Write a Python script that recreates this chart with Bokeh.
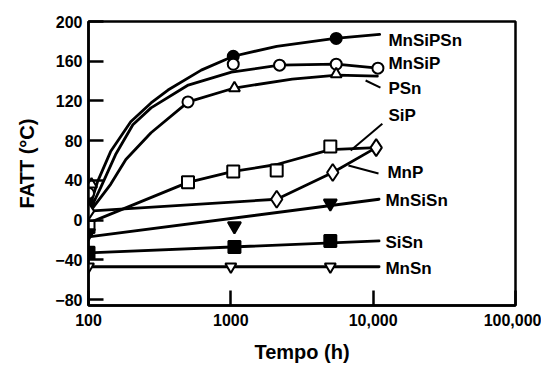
from bokeh.plotting import figure
from bokeh.models import FixedTicker, CustomJSTickFormatter, ColumnDataSource
from bokeh.embed import file_html
from bokeh.resources import INLINE
from bokeh.core.properties import value

# ---- measured points: ageing time (h) and FATT (°C) ----
mnsipsn_t = [100, 1040, 5500]
mnsipsn_v = [17, 165, 183]
mnsip_t = [100, 500, 1040, 2200, 5500, 10800]
mnsip_v = [27, 119, 157, 156, 157, 153]
psn_t = [105, 1060, 5500]
psn_v = [36, 133, 147]
sip_t = [100, 500, 1040, 2100, 5000]
sip_v = [-7, 38, 49, 50, 74]
mnp_t = [100, 2100, 5200, 10500]
mnp_v = [9, 21, 48, 73]
mnsisn_t = [100, 1060, 5000]
mnsisn_v = [-13, -6, 17]
sisn_t = [100, 1060, 5000]
sisn_v = [-33, -27, -21]
mnsn_t = [100, 1000, 5000]
mnsn_v = [-47, -47, -47]

# ---- trend curves drawn through each steel's results ----
mnsipsn_fit_t = [100, 116, 143, 198, 275, 362, 620, 1040, 2100, 5400, 11100]
mnsipsn_fit_v = [9, 39, 69, 99, 118, 131, 151, 165, 175, 183, 187]
mnsip_fit_t = [100, 122, 155, 205, 275, 502, 1010, 2200, 5500, 10800]
mnsip_fit_v = [7, 33, 66, 96, 113, 136, 149, 156, 157, 153]
psn_fit_t = [103, 143, 183, 275, 502, 1060, 2700, 5600, 10700]
psn_fit_v = [9, 36, 61, 88, 119, 133, 142, 146, 145]
sip_fit_t = [100, 500, 1040, 2100, 5000, 10500]
sip_fit_v = [-3, 38, 49, 56, 71, 73]
mnp_fit_t = mnp_t
mnp_fit_v = mnp_v
mnsisn_fit_t = [100, 11000]
mnsisn_fit_v = [-17, 21]
sisn_fit_t = [100, 11000]
sisn_fit_v = [-33, -21]
mnsn_fit_t = [100, 11000]
mnsn_fit_v = [-47, -47]

# ---- series names and where they are written ----
label_names = ["MnSiPSn", "MnSiP", "PSn", "SiP", "MnP", "MnSiSn", "SiSn", "MnSn"]
label_t = [12800, 12800, 12800, 12800, 12600, 12200, 12200, 12200]
label_v = [181, 158, 132.5, 105, 48, 20, -22.5, -49]

# leader lines from a curve to its name
leader_t0 = [8850, 6950, 6700]
leader_v0 = [140.6, 70, 55]
leader_t1 = [11250, 11600, 10900]
leader_v1 = [133.5, 97, 47]

# ---- axes ----
x_ticks = [100, 1000, 10000, 100000]
x_tick_labels = ["100", "1000", "10,000", "100,000"]
y_ticks = [-80, -40, 0, 40, 80, 120, 160, 200]

FONT = "Liberation Sans"

p = figure(
    width=541, height=374,
    x_axis_type="log",
    x_range=(100, 100000), y_range=(-86, 200),
    output_backend="svg", toolbar_location=None,
    min_border_left=88, min_border_right=26,
    min_border_top=21, min_border_bottom=69,
    background_fill_color="white", border_fill_color="white",
)
p.grid.visible = False
p.outline_line_color = "black"
p.outline_line_width = 2.5

for ax in (p.xaxis[0], p.yaxis[0]):
    ax.axis_line_width = 2.5
    ax.major_tick_in = 15
    ax.major_tick_out = 0
    ax.major_tick_line_width = 2.5
    ax.minor_tick_line_color = None
    ax.major_label_text_font = FONT
    ax.major_label_text_font_size = "16px"
    ax.major_label_text_font_style = "bold"
    ax.major_label_text_color = "black"
    ax.axis_label_text_font = FONT
    ax.axis_label_text_font_size = "20px"
    ax.axis_label_text_font_style = "bold"
    ax.axis_label_text_color = "black"

p.xaxis.ticker = FixedTicker(ticks=x_ticks)
p.xaxis.formatter = CustomJSTickFormatter(
    args=dict(vals=x_ticks, labs=x_tick_labels),
    code="""
const i = vals.findIndex(v => Math.abs(v - tick) < 1e-6 * v);
return i >= 0 ? labs[i] : "";
""")
p.xaxis.major_label_standoff = 8
p.xaxis.axis_label = "Tempo (h)"
p.xaxis.axis_label_standoff = 12

p.yaxis.ticker = FixedTicker(ticks=y_ticks)
p.yaxis.major_label_standoff = 6
p.yaxis.axis_label = "FATT (°C)"
p.yaxis.axis_label_standoff = 14

LW = 2.8

# trend lines
for ts, vs in [
    (mnsipsn_fit_t, mnsipsn_fit_v), (mnsip_fit_t, mnsip_fit_v),
    (psn_fit_t, psn_fit_v), (sip_fit_t, sip_fit_v),
    (mnp_fit_t, mnp_fit_v), (mnsisn_fit_t, mnsisn_fit_v),
    (sisn_fit_t, sisn_fit_v), (mnsn_fit_t, mnsn_fit_v),
]:
    p.line(ts, vs, line_color="black", line_width=LW, line_join="round", line_cap="round")

# leaders
p.segment(x0=leader_t0, y0=leader_v0, x1=leader_t1, y1=leader_v1,
          line_color="black", line_width=2)

# markers
def pts(ts, vs, marker, size, filled):
    p.scatter(ts, vs, marker=marker, size=size,
              fill_color="black" if filled else "white",
              line_color="black", line_width=2)

pts(mnsipsn_t, mnsipsn_v, "circle", 11, True)
pts(mnsip_t, mnsip_v, "circle", 11, False)
pts(psn_t, psn_v, "triangle", 11, False)
pts(sip_t, sip_v, "square", 12, False)
pts(mnp_t, mnp_v, "diamond", 17, False)
pts(mnsisn_t, mnsisn_v, "inverted_triangle", 13, True)
pts(sisn_t, sisn_v, "square", 12, True)
pts(mnsn_t, mnsn_v, "inverted_triangle", 11, False)

# series names
src = ColumnDataSource(dict(t=label_t, v=label_v, name=label_names))
p.text(x="t", y="v", text="name", source=src,
       text_font=value(FONT), text_font_size="17px", text_font_style="bold",
       text_color="black", text_align="left", text_baseline="middle")

open("out.html", "w").write(file_html(p, INLINE))
